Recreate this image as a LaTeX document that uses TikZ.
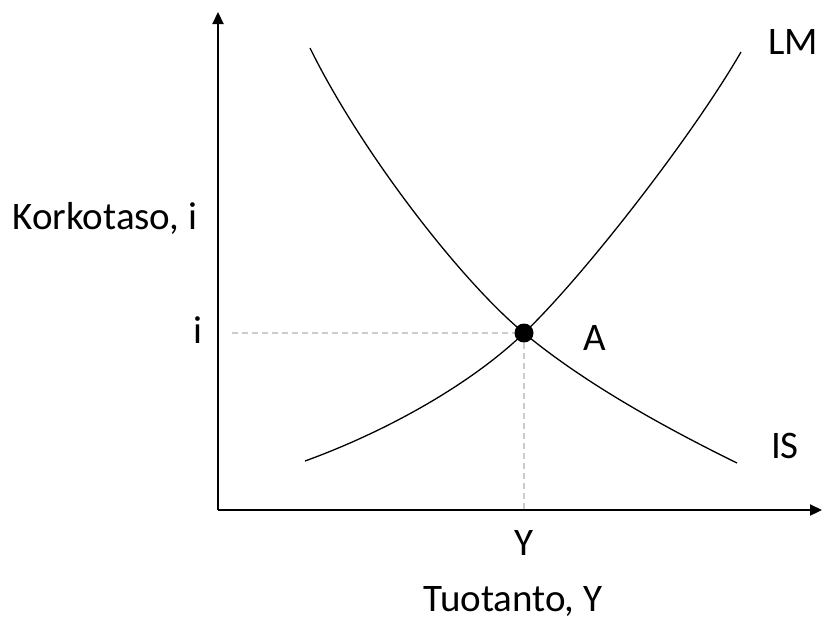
\documentclass[tikz,border=0pt]{standalone}
\usepackage{fontspec}
\setmainfont{Carlito}
\usetikzlibrary{arrows.meta}
\tikzset{
  axis/.style={line width=2.2pt,-{Triangle[length=12pt,width=11pt]}},
  curve/.style={line width=1.3pt},
  guide/.style={line width=1.3pt,dash pattern=on 6pt off 4pt,color=black!20},
  lbl/.style={font=\fontsize{39}{46}\selectfont,inner sep=0pt}
}
\begin{document}
\begin{tikzpicture}[x=1pt,y=-1pt]
\useasboundingbox (0,0) rectangle (822,622);
\coordinate (O) at (218,510);
\coordinate (ytop) at (218,12);
\coordinate (xend) at (822,510);
\coordinate (A) at (524,333);
\coordinate (ileft) at (232,333);
\coordinate (ybot) at (524,510);
\coordinate (is1) at (310,48);
\coordinate (is2) at (737,463);
\coordinate (lm1) at (305,461);
\coordinate (lm2) at (741,52);
\draw[guide] (ileft) -- (A);
\draw[guide] (A) -- (ybot);
\draw[axis] (O) -- (ytop);
\draw[axis] (O) -- (xend);
\draw[curve] (is1) .. controls (360,150) and (460,280) .. (A)
   .. controls (590,388) and (680,435) .. (is2);
\draw[curve] (lm1) .. controls (385,432) and (470,385) .. (A)
   .. controls (580,280) and (690,140) .. (lm2);
\fill (A) circle (9.5);
\node[lbl] (kork) at (105,218) {Korkotaso, i};
\node[lbl] (ilab) at (198,330) {i};
\node[lbl] (alab) at (595,338) {A};
\node[lbl] (lmlab) at (793,42) {LM};
\node[lbl] (islab) at (785,446) {IS};
\node[lbl] (ylab) at (524,543) {Y};
\node[lbl] (tuot) at (513,601) {Tuotanto, Y};
\end{tikzpicture}
\end{document}
